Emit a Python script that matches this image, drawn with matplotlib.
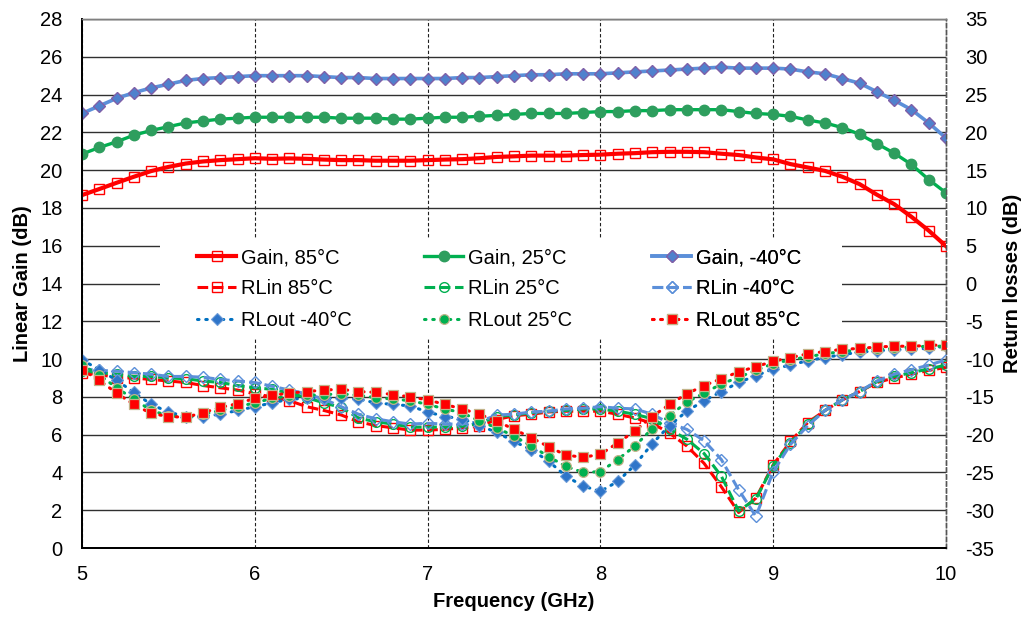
import numpy as np
import matplotlib
matplotlib.use("Agg")
import matplotlib.pyplot as plt
from matplotlib.patches import Rectangle

plt.rcParams['font.family'] = ['Liberation Sans', 'DejaVu Sans']
plt.rcParams['axes.unicode_minus'] = False

FREQ = [round(5.0 + 0.1 * i, 1) for i in range(51)]

GAIN_85 = [18.68, 19.0, 19.33, 19.65, 19.95, 20.17, 20.35, 20.46, 20.53, 20.58, 20.63,
           20.6, 20.62, 20.6, 20.56, 20.53, 20.53, 20.5, 20.5, 20.5, 20.53,
           20.56, 20.58, 20.63, 20.7, 20.73, 20.77, 20.77, 20.77, 20.8, 20.82,
           20.87, 20.9, 20.95, 20.97, 20.97, 20.95, 20.87, 20.8, 20.67, 20.57,
           20.32, 20.14, 19.96, 19.65, 19.26, 18.7, 18.2, 17.53, 16.8, 15.98]
GAIN_25 = [20.85, 21.2, 21.5, 21.85, 22.1, 22.3, 22.5, 22.6, 22.7, 22.75, 22.8,
           22.8, 22.8, 22.8, 22.8, 22.75, 22.75, 22.75, 22.7, 22.7, 22.75,
           22.8, 22.8, 22.85, 22.9, 22.95, 23.0, 23.0, 23.0, 23.05, 23.1,
           23.1, 23.15, 23.15, 23.2, 23.2, 23.2, 23.2, 23.1, 23.0, 22.95,
           22.85, 22.65, 22.5, 22.25, 21.9, 21.4, 20.9, 20.3, 19.5, 18.8]
GAIN_M40 = [23.0, 23.4, 23.8, 24.1, 24.35, 24.55, 24.75, 24.85, 24.9, 24.95, 25.0,
            25.0, 25.0, 25.0, 24.95, 24.9, 24.9, 24.85, 24.85, 24.85, 24.85,
            24.85, 24.9, 24.9, 24.95, 25.0, 25.05, 25.05, 25.1, 25.1, 25.1,
            25.15, 25.2, 25.25, 25.3, 25.35, 25.4, 25.45, 25.4, 25.4, 25.4,
            25.35, 25.2, 25.1, 24.85, 24.6, 24.15, 23.7, 23.2, 22.5, 21.7]

RLIN_85 = [-11.9, -12.0, -12.5, -12.5, -12.7, -12.9, -13.1, -13.5, -13.8, -14.1, -14.6,
           -15.0, -15.5, -16.3, -16.8, -17.4, -18.3, -18.8, -19.1, -19.4, -19.4,
           -19.3, -19.1, -18.9, -18.0, -17.5, -17.3, -17.0, -16.9, -16.9, -16.9,
           -17.3, -17.8, -18.5, -19.8, -21.5, -23.8, -26.9, -30.3, -28.4, -24.0,
           -20.9, -18.4, -16.8, -15.4, -14.3, -13.1, -12.5, -12.0, -11.5, -11.1]
RLIN_25 = [-11.6, -11.8, -12.0, -12.3, -12.3, -12.5, -12.6, -12.9, -13.1, -13.5, -13.8,
           -14.0, -14.5, -15.1, -15.8, -16.4, -17.8, -18.3, -18.6, -19.0, -19.0,
           -19.0, -18.9, -18.5, -17.6, -17.4, -17.1, -16.9, -16.8, -16.6, -16.6,
           -16.9, -17.3, -17.9, -19.3, -20.6, -22.5, -25.5, -30.1, -28.5, -24.1,
           -21.1, -18.6, -16.8, -15.4, -14.3, -13.0, -12.3, -11.8, -11.3, -10.8]
RLIN_M40 = [-11.3, -11.5, -11.6, -11.8, -12.0, -12.3, -12.3, -12.4, -12.7, -12.9, -13.1,
            -13.6, -14.1, -14.6, -15.3, -16.3, -17.3, -17.9, -18.3, -18.6, -18.5,
            -18.6, -18.6, -18.3, -17.4, -17.3, -17.0, -16.9, -16.6, -16.5, -16.3,
            -16.5, -16.6, -17.3, -18.5, -19.3, -20.8, -23.3, -27.3, -30.8, -24.9,
            -21.3, -18.8, -16.8, -15.4, -14.3, -12.9, -12.0, -11.4, -10.8, -10.1]

RLOUT_M40 = [-10.1, -11.4, -12.8, -14.4, -16.0, -17.0, -17.6, -17.6, -17.3, -16.8, -16.3,
             -15.8, -15.3, -15.2, -15.2, -15.1, -15.3, -15.8, -16.0, -16.2, -17.0,
             -17.6, -17.9, -18.8, -19.7, -20.9, -22.0, -23.5, -25.5, -26.8, -27.5,
             -26.2, -24.0, -21.2, -18.8, -16.9, -15.5, -14.3, -13.1, -12.2, -11.3,
             -10.8, -10.2, -9.8, -9.4, -9.1, -8.9, -8.8, -8.7, -8.6, -8.3]
RLOUT_25 = [-10.8, -12.1, -13.8, -15.3, -16.8, -17.5, -17.7, -17.3, -16.8, -16.3, -15.8,
            -15.2, -14.9, -14.8, -14.7, -14.6, -14.8, -15.1, -15.3, -15.5, -16.0,
            -16.6, -17.1, -18.2, -19.1, -20.2, -21.5, -22.9, -24.2, -25.0, -24.9,
            -23.3, -21.5, -19.2, -17.5, -15.7, -14.5, -13.3, -12.4, -11.5, -10.6,
            -10.1, -9.7, -9.3, -9.0, -8.8, -8.7, -8.6, -8.4, -8.3, -8.3]
RLOUT_85 = [-11.4, -12.8, -14.5, -16.0, -17.2, -17.6, -17.7, -17.1, -16.4, -15.9, -15.2,
            -14.8, -14.5, -14.3, -14.1, -14.0, -14.3, -14.4, -14.7, -15.0, -15.4,
            -16.0, -16.6, -17.3, -18.2, -19.3, -20.4, -21.6, -22.7, -23.0, -22.6,
            -21.1, -19.5, -17.6, -16.0, -14.6, -13.5, -12.6, -11.7, -11.0, -10.3,
            -9.8, -9.3, -9.0, -8.7, -8.6, -8.4, -8.3, -8.3, -8.2, -8.1]

X_TICKS = [5, 6, 7, 8, 9, 10]
LEFT_TICKS = list(range(0, 29, 2))
RIGHT_TICKS = list(range(-35, 36, 5))

RED = '#FF0000'
GREEN = '#00B050'
GREEN_DK = '#2E9E5E'
LBLUE = '#5B8FD9'
BLUE = '#0070C0'
TAN = '#C2B48A'

W, H = 1024, 619
fig = plt.figure(figsize=(W / 100, H / 100), dpi=100)
L, R, T, B = 82, 946, 19, 548
ax = fig.add_axes([L / W, 1 - B / H, (R - L) / W, (B - T) / H])
ax2 = ax.twinx()

ax.set_xlim(5, 10)
ax.set_ylim(0, 28)
ax2.set_ylim(-35, 35)
ax.set_xticks(X_TICKS)
ax.set_yticks(LEFT_TICKS)
ax2.set_yticks(RIGHT_TICKS)

ax.set_axisbelow(True)
ax.yaxis.grid(True, color='#303030', lw=1.0, ls='-')
ax.xaxis.grid(True, color='#202020', lw=0.8, ls=(0, (3, 2)))

FS = 14.5
for a in (ax, ax2):
    a.tick_params(length=0, labelsize=FS)
    for s in ('left', 'bottom'):
        a.spines[s].set_color('black')
        a.spines[s].set_linewidth(1.3)
    a.spines['top'].set_color('#808080')
    a.spines['top'].set_linewidth(1.0)
    a.spines['right'].set_color('#555555')
    a.spines['right'].set_linewidth(1.0)
    a.spines['right'].set_linestyle((0, (3, 2)))
ax.tick_params(axis='y', pad=14)
ax.tick_params(axis='x', pad=12)
ax2.tick_params(axis='y', pad=14)

# white legend backdrop
ax.add_patch(Rectangle((160 / W, 1 - 338 / H), (842 - 160) / W, 100 / H,
                       transform=fig.transFigure, facecolor='white',
                       edgecolor='none', zorder=1, clip_on=False))

h_g85, = ax.plot(FREQ, GAIN_85, color=RED, lw=3.0, marker='s', ms=7,
                 mfc='none', mec=RED, mew=1.0, zorder=3, label='Gain, 85°C')
h_g25, = ax.plot(FREQ, GAIN_25, color=GREEN, lw=2.4, marker='o', ms=7.5,
                 mfc=GREEN_DK, mec=GREEN_DK, zorder=3, label='Gain, 25°C')
h_gm40, = ax.plot(FREQ, GAIN_M40, color=LBLUE, lw=2.6, marker='D', ms=6.5,
                  mfc='#4F81CD', mec='#7F60A8', mew=1.0, zorder=3, label='Gain, -40°C')

dash = (0, (3.5, 1.5))
h_i85, = ax2.plot(FREQ, RLIN_85, color=RED, lw=2.2, ls=dash, marker='s', ms=7,
                  mfc='none', mec=RED, mew=1.0, label='RLin 85°C')
h_i25, = ax2.plot(FREQ, RLIN_25, color=GREEN, lw=2.2, ls=dash, marker='o', ms=7,
                  mfc='none', mec=GREEN, mew=1.0, label='RLin 25°C')
h_im40, = ax2.plot(FREQ, RLIN_M40, color=LBLUE, lw=2.2, ls=dash, marker='D', ms=6.5,
                   mfc='none', mec=LBLUE, mew=1.0, label='RLin -40°C')

dot = (0, (0.5, 2.2))
h_om40, = ax2.plot(FREQ, RLOUT_M40, color=BLUE, lw=2.2, ls=dot, dash_capstyle='round',
                   marker='D', ms=6, mfc='#2F75C9', mec='#6A9AD8', mew=0.8,
                   label='RLout -40°C')
h_o25, = ax2.plot(FREQ, RLOUT_25, color=GREEN, lw=2.2, ls=dot, dash_capstyle='round',
                  marker='o', ms=7, mfc=GREEN, mec=TAN, mew=0.9, label='RLout 25°C')
h_o85, = ax2.plot(FREQ, RLOUT_85, color=RED, lw=2.2, ls=dot, dash_capstyle='round',
                  marker='s', ms=6.5, mfc=RED, mec=TAN, mew=0.9, label='RLout 85°C')

ax.set_xlabel('Frequency (GHz)', fontsize=FS, fontweight='bold', labelpad=6)
ax.set_ylabel('Linear Gain (dB)', fontsize=FS, fontweight='bold', labelpad=6)
ax2.set_ylabel('Return losses (dB)', fontsize=FS, fontweight='bold', labelpad=6)

cols = [([h_g85, h_i85, h_om40], 197), ([h_g25, h_i25, h_o25], 424),
        ([h_gm40, h_im40, h_o85], 652)]
for hs, xp in cols:
    lg = ax2.legend(handles=hs, loc='upper left',
                    bbox_to_anchor=(xp / W, 1 - 248 / H), bbox_transform=fig.transFigure,
                    frameon=False, fontsize=FS, borderpad=0, borderaxespad=0,
                    handlelength=1.95, handletextpad=0.25, labelspacing=0.62,
                    numpoints=1)
    ax2.add_artist(lg)

fig.savefig('out.png', dpi=100)
